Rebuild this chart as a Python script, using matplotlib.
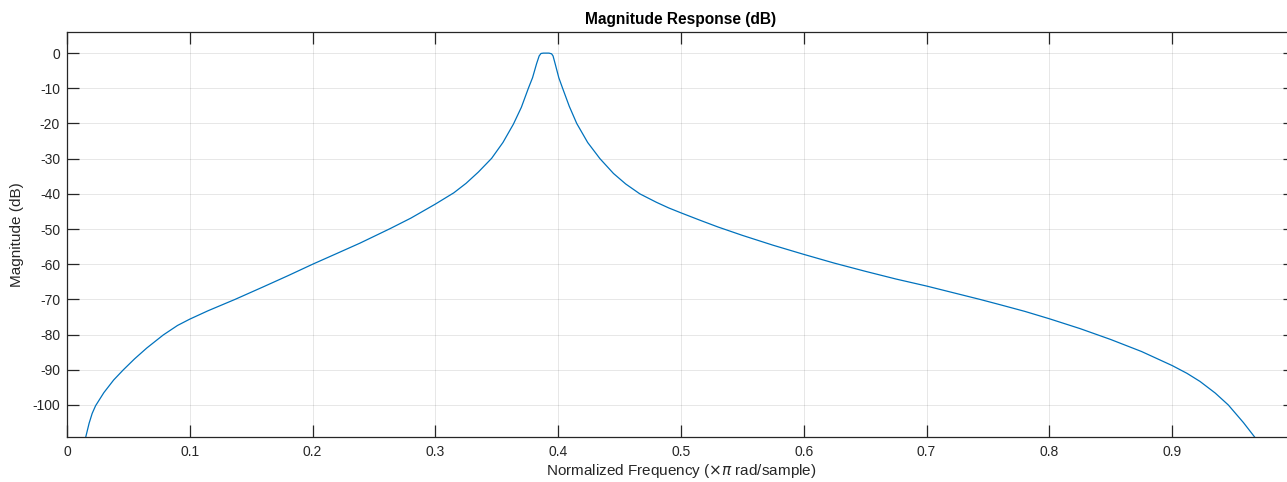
import matplotlib
matplotlib.use("Agg")
import matplotlib.pyplot as plt

plt.rcParams['font.family'] = ['Liberation Sans', 'DejaVu Sans']

# Values (normalized frequency, magnitude in dB)
freq = [0.0152, 0.018, 0.0205, 0.0233, 0.030, 0.038, 0.0459, 0.055, 0.065,
        0.0784, 0.090, 0.100, 0.115, 0.1368, 0.160, 0.180, 0.200, 0.220,
        0.2386, 0.263, 0.280, 0.300, 0.315, 0.325, 0.335, 0.3458, 0.355,
        0.3635, 0.370, 0.3757, 0.3791, 0.3824, 0.3845, 0.386, 0.388, 0.390,
        0.3925, 0.3946, 0.3958, 0.3975, 0.4005, 0.4036, 0.409, 0.4151, 0.424,
        0.434, 0.445, 0.455, 0.4665, 0.480, 0.490, 0.500, 0.5155, 0.530,
        0.550, 0.575, 0.600, 0.625, 0.650, 0.675, 0.700, 0.7435, 0.7598,
        0.780, 0.800, 0.825, 0.850, 0.875, 0.900, 0.912, 0.9226, 0.935,
        0.9457, 0.958, 0.968]
mag_db = [-109.2, -105.2, -102.4, -100.2, -96.5, -92.9, -90.0, -86.9, -83.8,
          -80.1, -77.4, -75.6, -73.2, -70.0, -66.4, -63.25, -60.0, -56.9,
          -54.0, -49.9, -46.9, -42.9, -39.7, -37.0, -33.8, -29.9, -25.4,
          -20.2, -15.4, -10.0, -7.0, -3.0, -0.8, -0.1, 0.0, 0.0,
          0.0, -0.2, -0.8, -3.0, -7.0, -10.0, -15.1, -20.0, -25.4,
          -30.0, -34.2, -37.2, -40.0, -42.4, -44.0, -45.4, -47.5, -49.4,
          -51.8, -54.6, -57.2, -59.7, -62.0, -64.2, -66.2, -70.0, -71.5,
          -73.4, -75.5, -78.3, -81.4, -84.8, -88.8, -91.0, -93.3, -96.6,
          -100.0, -105.0, -109.5]

xticks = [0, 0.1, 0.2, 0.3, 0.4, 0.5, 0.6, 0.7, 0.8, 0.9]
xticklabels = ['0', '0.1', '0.2', '0.3', '0.4', '0.5', '0.6', '0.7', '0.8', '0.9']
yticks = [-100, -90, -80, -70, -60, -50, -40, -30, -20, -10, 0]
yticklabels = ['-100', '-90', '-80', '-70', '-60', '-50', '-40', '-30', '-20', '-10', '0']

W, H = 1287, 482
fig = plt.figure(figsize=(W / 100, H / 100), dpi=100)
fig.patch.set_facecolor('white')
ax = fig.add_axes([67 / W, (H - 437) / H, (1295 - 67) / W, (437 - 32) / H])

ax.plot(freq, mag_db, color='#0072BD', lw=0.9, clip_on=True)

ax.set_xlim(0, 1)
ax.set_ylim(-109.1, 6.0)
ax.set_xticks(xticks)
ax.set_xticklabels(xticklabels)
ax.set_yticks(yticks)
ax.set_yticklabels(yticklabels)

ax.grid(True, color='#262626', alpha=0.13, lw=0.6)
ax.set_axisbelow(True)
for s in ax.spines.values():
    s.set_color('#262626')
    s.set_linewidth(0.9)
ax.tick_params(direction='in', length=8.5, width=0.9, color='#262626',
               labelcolor='#262626', labelsize=10, top=True, right=True)
ax.tick_params(axis='x', pad=6)
ax.tick_params(axis='y', pad=5)

ax.set_title('Magnitude Response (dB)', fontsize=11.2, fontweight='bold',
             color='black', pad=6)
ax.set_xlabel('Normalized Frequency ($\\times\\pi$ rad/sample)', fontsize=11,
              color='#262626', labelpad=2)
ax.set_ylabel('Magnitude (dB)', fontsize=11, color='#262626', labelpad=6)

fig.savefig('out.png', dpi=100, facecolor='white')
